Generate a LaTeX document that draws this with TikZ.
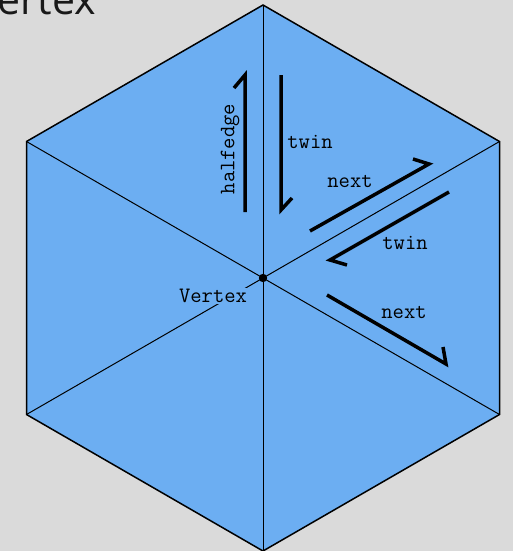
\documentclass[tikz,border=0pt]{standalone}
\usepackage{fontspec}
\newfontfamily\titlef{Open Sans}
\definecolor{bg}{RGB}{218,218,218}
\definecolor{hexblue}{RGB}{108,174,242}
\begin{document}
\begin{tikzpicture}[x=1pt,y=-1pt,
  lbl/.style={font=\ttfamily\fontsize{22}{25}\selectfont, inner sep=1pt},
  harp/.style={line width=3.5pt, line cap=butt, line join=miter},
  edge/.style={line width=1pt},
  rim/.style={line width=1.5pt, line join=miter}]
\clip (0,0) rectangle (513,551);
\fill[bg] (0,0) rectangle (513,551);
\node[anchor=base east, inner sep=0pt, text=black!90, font=\titlef\fontsize{41}{46}\selectfont] (title) at (96,15) {Vertex};
% hexagon
\coordinate (C) at (263,278);
\coordinate (T) at (263,5);
\coordinate (UR) at (499.5,141.5);
\coordinate (LR) at (499.5,414.5);
\coordinate (B) at (263,551);
\coordinate (LL) at (26.5,414.5);
\coordinate (UL) at (26.5,141.5);
\fill[hexblue] (T) -- (UR) -- (LR) -- (B) -- (LL) -- (UL) -- cycle;
\foreach \v in {T,UR,LR,B,LL,UL} \draw[edge] (C) -- (\v);
\draw[rim] (T) -- (UR) -- (LR) -- (B) -- (LL) -- (UL) -- cycle;
\node[lbl, fill=hexblue] (vlabel) at (213,296) {Vertex};
\fill (C) circle (4.2);
% half-edge arrows
\coordinate (h1) at (245,212); \coordinate (h2) at (245,75); \coordinate (h3) at (234,88);
\draw[harp] (h1) -- (h2) -- (h3);
\coordinate (t1) at (281,75); \coordinate (t2) at (281,210); \coordinate (t3) at (292,198);
\draw[harp] (t1) -- (t2) -- (t3);
\coordinate (n1) at (310,231); \coordinate (n2) at (429,164); \coordinate (n3) at (413,159);
\draw[harp] (n1) -- (n2) -- (n3);
\coordinate (w1) at (449,192); \coordinate (w2) at (330,260); \coordinate (w3) at (347,265);
\draw[harp] (w1) -- (w2) -- (w3);
\coordinate (m1) at (327,295); \coordinate (m2) at (446,364); \coordinate (m3) at (443,347);
\draw[harp] (m1) -- (m2) -- (m3);
% labels
\node[lbl, rotate=90] (hl) at (230,149) {halfedge};
\node[lbl] (tl1) at (310,142) {twin};
\node[lbl] (nl1) at (350,181) {next};
\node[lbl] (tl2) at (405,243) {twin};
\node[lbl] (nl2) at (404,312) {next};
\end{tikzpicture}
\end{document}
